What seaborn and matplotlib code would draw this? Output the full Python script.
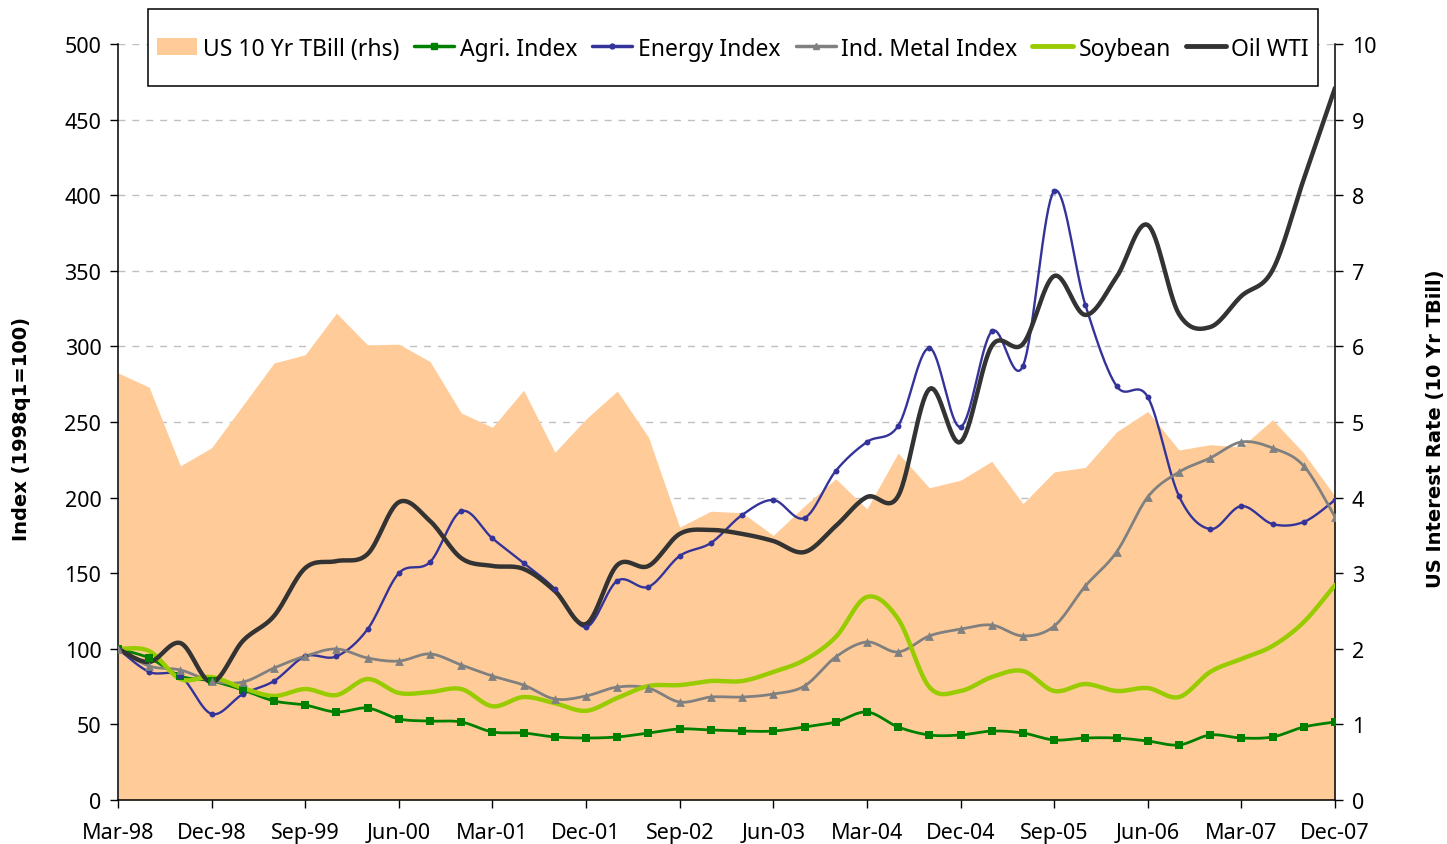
import numpy as np
import pandas as pd
import matplotlib
matplotlib.use("Agg")
import matplotlib.pyplot as plt
import seaborn as sns
from matplotlib.lines import Line2D
from matplotlib.patches import Patch, Rectangle

# ---------------- data (quarterly, Mar-98 .. Dec-07) ----------------
tick_labels = ["Mar-98", "Dec-98", "Sep-99", "Jun-00", "Mar-01", "Dec-01", "Sep-02",
               "Jun-03", "Mar-04", "Dec-04", "Sep-05", "Jun-06", "Mar-07", "Dec-07"]

tbill = [5.65, 5.46, 4.42, 4.66, 5.22, 5.78, 5.89, 6.44, 6.02, 6.03,
         5.80, 5.12, 4.93, 5.42, 4.60, 5.04, 5.41, 4.80, 3.61, 3.82,
         3.80, 3.50, 3.89, 4.25, 3.85, 4.59, 4.13, 4.23, 4.48, 3.92,
         4.34, 4.40, 4.87, 5.14, 4.63, 4.70, 4.67, 5.03, 4.59, 4.02]

agri = [100, 93.9, 82, 78.7, 72.8, 65.5, 62.8, 58.2, 60.8, 53.6,
        52.2, 51.6, 45, 44.3, 41.7, 41, 41.7, 44.3, 47, 46.3,
        45.6, 45.6, 48.3, 51.6, 58.2, 48.3, 43, 43, 45.6, 44.3,
        39.7, 41, 41, 39, 36.4, 43, 41, 41.7, 48.3, 51.6]

energy = [100, 84.7, 82, 56.9, 70, 78.7, 95, 95, 113, 150,
          157.4, 191, 173, 156.7, 139.5, 114.4, 145, 141, 161.4, 170,
          188.5, 198.4, 186.5, 217.6, 236.8, 247.4, 299, 246.7, 310, 287,
          402.8, 327.4, 273.8, 266.5, 201, 179.2, 194.4, 182.5, 183.9, 198.4]

metal = [100, 88.6, 86, 78.7, 78, 87.3, 95.2, 99.9, 93.9, 91.9,
         96.6, 89.3, 82, 76, 66.8, 68.8, 74.7, 74, 64.8, 68.1,
         68.1, 70.1, 75.4, 94.6, 104.5, 97.9, 108.5, 113, 115.7, 108.5,
         115, 141.5, 164, 200.4, 216.9, 226.2, 236.8, 232.8, 220.9, 187.2]

soybean = [100, 98.5, 80, 81.3, 74, 68.8, 73.4, 69.4, 80, 70.8,
           71.4, 73.4, 62, 68.1, 64, 59, 67.5, 75.4, 76, 78.7,
           78.7, 84.7, 92.6, 107.8, 134.3, 119.7, 74.7, 72.1, 81.3, 85.3,
           72.1, 76.7, 72.1, 74, 68.1, 84.7, 93.3, 101.9, 117.7, 142.2]

oil = [100, 91.3, 103.8, 78, 105.2, 121.7, 153.4, 158, 162.7, 197,
       184.5, 160, 154.8, 152.8, 138.2, 116.4, 155.4, 154.8, 176, 178.6,
       176, 171.3, 164, 181.2, 200.4, 201, 271.8, 236.8, 300.3, 301.6,
       346.6, 320.8, 345.9, 380.3, 321.4, 312.8, 333.3, 350.5, 410.7, 470.9]

names = ["US 10 Yr TBill (rhs)", "Agri. Index", "Energy Index",
         "Ind. Metal Index", "Soybean", "Oil WTI"]

C_AREA = "#FFCC99"
C_AGRI = "#008000"
C_ENERGY = "#333399"
C_METAL = "#808080"
C_SOY = "#99CC00"
C_OIL = "#333333"


def smooth(xv, yv, n=16):
    """Catmull-Rom rendering of a series (like Excel's 'smoothed line')."""
    p = np.column_stack([xv, yv]).astype(float)
    p = np.vstack([p[0], p, p[-1]])
    out = []
    t = np.linspace(0, 1, n, endpoint=False)[:, None]
    for i in range(1, len(p) - 2):
        p0, p1, p2, p3 = p[i - 1], p[i], p[i + 1], p[i + 2]
        seg = 0.5 * (2 * p1 + (-p0 + p2) * t + (2 * p0 - 5 * p1 + 4 * p2 - p3) * t ** 2
                     + (-p0 + 3 * p1 - 3 * p2 + p3) * t ** 3)
        out.append(seg)
    out.append(p[-2][None, :])
    out = np.vstack(out)
    return out[:, 0], out[:, 1]


sns.set_theme(style="white")
plt.rcParams["font.family"] = ["Noto Sans", "DejaVu Sans"]

W, H = 1447, 845
fig = plt.figure(figsize=(W / 100, H / 100), dpi=100)
ax = fig.add_axes([118 / W, 1 - 801 / H, (1335 - 118) / W, (801 - 45) / H])
ax2 = ax.twinx()
ax.set_zorder(ax2.get_zorder() + 1)
ax.patch.set_visible(False)

x = np.arange(len(tbill))

# area on the right axis
ax2.fill_between(x, 0, tbill, color=C_AREA, lw=0, zorder=2)
ax2.set_ylim(0, 10)
ax2.set_yticks(range(0, 11))
ax2.set_axisbelow(True)
ax2.yaxis.grid(True, linestyle=(0, (5, 5)), color="#C0C0C0", lw=1)
ax2.xaxis.grid(False)

series = [
    (agri, C_AGRI, 2.0, "s", 30),
    (energy, C_ENERGY, 1.7, "o", 18),
    (metal, C_METAL, 2.0, "^", 40),
    (soybean, C_SOY, 3.2, None, 0),
    (oil, C_OIL, 3.2, None, 0),
]
for vals, col, lw, mk, ms in series:
    xs, ys = smooth(x, vals)
    sns.lineplot(x=xs, y=ys, ax=ax, color=col, lw=lw, sort=False, estimator=None,
                 zorder=3)
for vals, col, lw, mk, ms in series:
    if mk:
        sns.scatterplot(x=x, y=vals, ax=ax, marker=mk, s=ms, color=col,
                        edgecolor=col, linewidth=0, zorder=4)

ax.set_xlim(0, len(tbill) - 1)
ax.set_ylim(0, 500)
ax2.set_xlim(0, len(tbill) - 1)
ax.set_yticks(range(0, 501, 50))
ax.set_xticks(x[::3])
ax.set_xticklabels(tick_labels)
ax.grid(False)

for a in (ax, ax2):
    a.spines["top"].set_visible(False)
    for s in ("left", "right", "bottom"):
        a.spines[s].set_color("black")
        a.spines[s].set_linewidth(1.1)
ax.spines["right"].set_visible(False)
ax2.spines["left"].set_visible(False)
ax2.spines["bottom"].set_visible(False)

ax.tick_params(axis="y", direction="out", length=6, width=1, color="black",
               labelsize=15.5, pad=6, left=True)
ax.tick_params(axis="x", direction="out", length=6, width=1, color="black",
               labelsize=15.5, pad=10, bottom=True)
ax2.tick_params(axis="y", direction="out", length=6, width=1, color="black",
                labelsize=15.5, pad=6, right=True)
for lab in ax.get_xticklabels() + ax.get_yticklabels() + ax2.get_yticklabels():
    lab.set_color("black")

fig.text(22 / W, 1 - 429 / H, "Index (1998q1=100)", rotation=90, ha="center",
         va="center", fontsize=14, fontweight="bold", family="DejaVu Sans",
         color="black")
fig.text(1435 / W, 1 - 429 / H, "US Interest Rate (10 Yr TBill)", rotation=90,
         ha="center", va="center", fontsize=14, fontweight="bold",
         family="DejaVu Sans", color="black")

# legend frame (drawn separately so its padding matches the original)
fig.add_artist(Rectangle((148 / W, 1 - 87 / H), (1318 - 148) / W, 77 / H,
                         transform=fig.transFigure, facecolor="white",
                         edgecolor="black", lw=1.1, zorder=5))

handles = [
    Patch(facecolor=C_AREA, edgecolor="none"),
    Line2D([0], [0], color=C_AGRI, lw=2.5, marker="s", ms=4),
    Line2D([0], [0], color=C_ENERGY, lw=2.5, marker="o", ms=3.5),
    Line2D([0], [0], color=C_METAL, lw=2.5, marker="^", ms=5),
    Line2D([0], [0], color=C_SOY, lw=3.5),
    Line2D([0], [0], color=C_OIL, lw=3.5),
]
leg = fig.legend(handles, names, loc="center",
                 bbox_to_anchor=((148 + 1318) / 2 / W, 1 - 49.5 / H),
                 ncol=6, frameon=False, fontsize=16.5,
                 handlelength=1.75, handleheight=0.75, columnspacing=0.65,
                 handletextpad=0.25, borderpad=0.2)
leg.set_zorder(6)
for t in leg.get_texts():
    t.set_color("black")

fig.savefig("out.png", dpi=100)
